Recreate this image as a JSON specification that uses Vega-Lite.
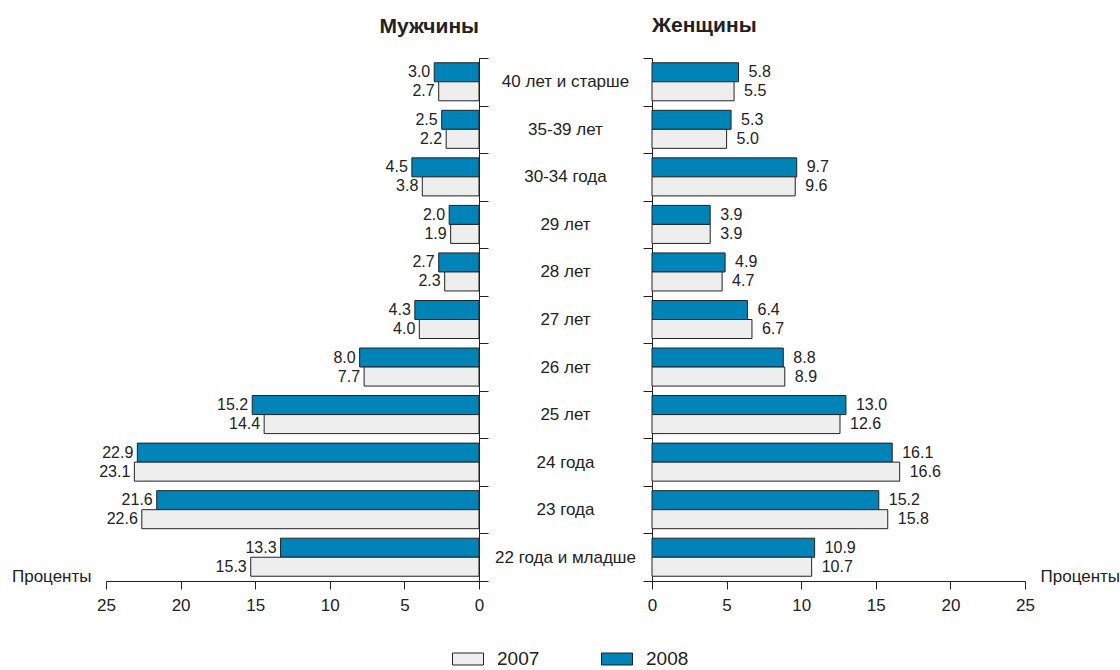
{
  "$schema": "https://vega.github.io/schema/vega-lite/v6.json",
  "padding": {"left": 11, "top": 15, "right": 5, "bottom": 5},
  "datasets": {
    "d": [
      {"sex": "М", "age": "40 лет и старше", "year": "2008", "value": 3.0},
      {"sex": "М", "age": "40 лет и старше", "year": "2007", "value": 2.7},
      {"sex": "М", "age": "35-39 лет", "year": "2008", "value": 2.5},
      {"sex": "М", "age": "35-39 лет", "year": "2007", "value": 2.2},
      {"sex": "М", "age": "30-34 года", "year": "2008", "value": 4.5},
      {"sex": "М", "age": "30-34 года", "year": "2007", "value": 3.8},
      {"sex": "М", "age": "29 лет", "year": "2008", "value": 2.0},
      {"sex": "М", "age": "29 лет", "year": "2007", "value": 1.9},
      {"sex": "М", "age": "28 лет", "year": "2008", "value": 2.7},
      {"sex": "М", "age": "28 лет", "year": "2007", "value": 2.3},
      {"sex": "М", "age": "27 лет", "year": "2008", "value": 4.3},
      {"sex": "М", "age": "27 лет", "year": "2007", "value": 4.0},
      {"sex": "М", "age": "26 лет", "year": "2008", "value": 8.0},
      {"sex": "М", "age": "26 лет", "year": "2007", "value": 7.7},
      {"sex": "М", "age": "25 лет", "year": "2008", "value": 15.2},
      {"sex": "М", "age": "25 лет", "year": "2007", "value": 14.4},
      {"sex": "М", "age": "24 года", "year": "2008", "value": 22.9},
      {"sex": "М", "age": "24 года", "year": "2007", "value": 23.1},
      {"sex": "М", "age": "23 года", "year": "2008", "value": 21.6},
      {"sex": "М", "age": "23 года", "year": "2007", "value": 22.6},
      {"sex": "М", "age": "22 года и младше", "year": "2008", "value": 13.3},
      {"sex": "М", "age": "22 года и младше", "year": "2007", "value": 15.3},
      {"sex": "Ж", "age": "40 лет и старше", "year": "2008", "value": 5.8},
      {"sex": "Ж", "age": "40 лет и старше", "year": "2007", "value": 5.5},
      {"sex": "Ж", "age": "35-39 лет", "year": "2008", "value": 5.3},
      {"sex": "Ж", "age": "35-39 лет", "year": "2007", "value": 5.0},
      {"sex": "Ж", "age": "30-34 года", "year": "2008", "value": 9.7},
      {"sex": "Ж", "age": "30-34 года", "year": "2007", "value": 9.6},
      {"sex": "Ж", "age": "29 лет", "year": "2008", "value": 3.9},
      {"sex": "Ж", "age": "29 лет", "year": "2007", "value": 3.9},
      {"sex": "Ж", "age": "28 лет", "year": "2008", "value": 4.9},
      {"sex": "Ж", "age": "28 лет", "year": "2007", "value": 4.7},
      {"sex": "Ж", "age": "27 лет", "year": "2008", "value": 6.4},
      {"sex": "Ж", "age": "27 лет", "year": "2007", "value": 6.7},
      {"sex": "Ж", "age": "26 лет", "year": "2008", "value": 8.8},
      {"sex": "Ж", "age": "26 лет", "year": "2007", "value": 8.9},
      {"sex": "Ж", "age": "25 лет", "year": "2008", "value": 13.0},
      {"sex": "Ж", "age": "25 лет", "year": "2007", "value": 12.6},
      {"sex": "Ж", "age": "24 года", "year": "2008", "value": 16.1},
      {"sex": "Ж", "age": "24 года", "year": "2007", "value": 16.6},
      {"sex": "Ж", "age": "23 года", "year": "2008", "value": 15.2},
      {"sex": "Ж", "age": "23 года", "year": "2007", "value": 15.8},
      {"sex": "Ж", "age": "22 года и младше", "year": "2008", "value": 10.9},
      {"sex": "Ж", "age": "22 года и младше", "year": "2007", "value": 10.7}
    ]
  },
  "data": {"name": "d"},
  "spacing": 173,
  "bounds": "flush",
  "hconcat": [
    {
      "width": 373,
      "height": 523,
      "title": {"text": "Мужчины", "anchor": "end", "frame": "group", "fontSize": 21, "fontWeight": "bold", "baseline": "alphabetic", "offset": -4.5, "color": "#222"},
      "transform": [{"filter": "datum.sex === 'М'"}],
      "encoding": {
        "y": {
          "field": "age", "type": "nominal",
          "sort": ["40 лет и старше", "35-39 лет", "30-34 года", "29 лет", "28 лет", "27 лет", "26 лет", "25 лет", "24 года", "23 года", "22 года и младше"],
          "scale": {"paddingInner": 0, "paddingOuter": 0},
          "axis": {"orient": "right", "title": null, "tickBand": "extent", "tickSize": 9, "labelAlign": "center", "labelBaseline": "middle", "labelPadding": 77, "labelFontSize": 17}
        },
        "yOffset": {"field": "year", "type": "nominal", "sort": ["2008", "2007"], "scale": {"paddingOuter": 0.25, "paddingInner": 0}},
        "x": {
          "field": "value", "type": "quantitative",
          "scale": {"domain": [0, 25], "reverse": true, "nice": false},
          "axis": {"title": "Проценты", "titleX": -15, "titleY": -5, "titleAlign": "right", "titleBaseline": "middle", "values": [0, 5, 10, 15, 20, 25]}
        }
      },
      "layer": [
        {
          "mark": {"type": "bar", "stroke": "#222", "strokeWidth": 1},
          "encoding": {
            "fill": {
              "field": "year", "type": "nominal",
              "scale": {"domain": ["2007", "2008"], "range": ["#eeeeee", "#0083b6"]},
              "legend": {"title": null, "orient": "none", "direction": "horizontal", "legendX": 346, "legendY": 585, "symbolType": "M-1,-0.387H1V0.387H-1Z", "symbolSize": 961, "symbolStrokeColor": "#222", "symbolStrokeWidth": 1, "labelFontSize": 19, "labelOffset": 13, "columnPadding": 59, "padding": 0}
            }
          }
        },
        {
          "mark": {"type": "text", "align": "right", "baseline": "middle", "dx": -4, "fontSize": 16, "color": "#222"},
          "encoding": {"text": {"field": "value", "type": "quantitative", "format": ".1f"}}
        }
      ]
    },
    {
      "width": 373,
      "height": 523,
      "title": {"text": "Женщины", "anchor": "start", "frame": "group", "fontSize": 21, "fontWeight": "bold", "baseline": "alphabetic", "offset": 4.5, "color": "#222"},
      "transform": [{"filter": "datum.sex === 'Ж'"}],
      "encoding": {
        "y": {
          "field": "age", "type": "nominal",
          "sort": ["40 лет и старше", "35-39 лет", "30-34 года", "29 лет", "28 лет", "27 лет", "26 лет", "25 лет", "24 года", "23 года", "22 года и младше"],
          "scale": {"paddingInner": 0, "paddingOuter": 0},
          "axis": {"orient": "left", "title": null, "tickBand": "extent", "tickSize": 9, "labels": false}
        },
        "yOffset": {"field": "year", "type": "nominal", "sort": ["2008", "2007"], "scale": {"paddingOuter": 0.25, "paddingInner": 0}},
        "x": {
          "field": "value", "type": "quantitative",
          "scale": {"domain": [0, 25], "nice": false},
          "axis": {"title": "Проценты", "titleX": 388, "titleY": -5, "titleAlign": "left", "titleBaseline": "middle", "values": [0, 5, 10, 15, 20, 25]}
        }
      },
      "layer": [
        {
          "mark": {"type": "bar", "stroke": "#222", "strokeWidth": 1},
          "encoding": {
            "fill": {"field": "year", "type": "nominal", "scale": {"domain": ["2007", "2008"], "range": ["#eeeeee", "#0083b6"]}}
          }
        },
        {
          "mark": {"type": "text", "align": "left", "baseline": "middle", "dx": 10, "fontSize": 16, "color": "#222"},
          "encoding": {"text": {"field": "value", "type": "quantitative", "format": ".1f"}}
        }
      ]
    }
  ],
  "config": {
    "font": "Liberation Sans",
    "view": {"stroke": null},
    "axis": {
      "grid": false,
      "domainColor": "#222",
      "tickColor": "#222",
      "labelColor": "#222",
      "titleColor": "#222",
      "titleFontWeight": "normal",
      "titleFontSize": 17,
      "labelFontSize": 17,
      "labelFlush": false,
      "labelOverlap": false
    },
    "axisX": {"tickSize": 8, "labelPadding": 8},
    "legend": {"labelColor": "#222"}
  }
}
